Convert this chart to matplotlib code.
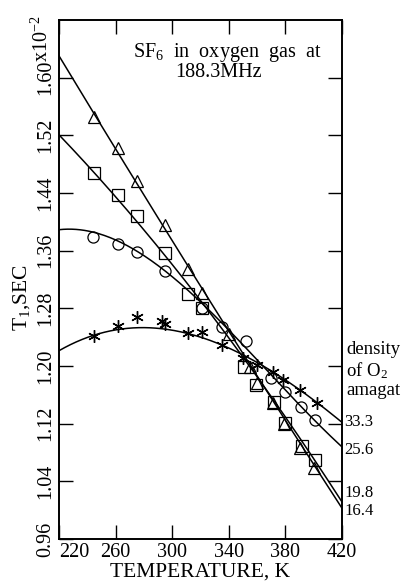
import numpy as np
import matplotlib
matplotlib.use("Agg")
import matplotlib.pyplot as plt

plt.rcParams['font.family'] = ['Liberation Serif', 'DejaVu Serif']
plt.rcParams['mathtext.fontset'] = 'custom'
plt.rcParams['mathtext.rm'] = 'Liberation Serif'
plt.rcParams['mathtext.it'] = 'Liberation Serif:italic'

# ---- data ----
# density 16.4 amagat (triangles)
tri_T = [245, 262, 275, 295, 311, 321, 340, 355, 360, 371, 379, 390, 400]
tri_v = [1.546, 1.503, 1.457, 1.396, 1.335, 1.301, 1.245, 1.198, 1.176, 1.149, 1.120, 1.086, 1.059]
# density 19.8 amagat (squares)
sq_T = [245, 262, 275, 295, 311, 321, 351, 359, 372, 380, 392, 401]
sq_v = [1.468, 1.437, 1.408, 1.357, 1.300, 1.280, 1.199, 1.174, 1.150, 1.121, 1.089, 1.070]
# density 25.6 amagat (circles)
ci_T = [244, 262, 275, 295, 321, 335, 352, 370, 380, 391, 401]
ci_v = [1.379, 1.369, 1.358, 1.332, 1.280, 1.254, 1.235, 1.183, 1.164, 1.143, 1.125]
# density 33.3 amagat (asterisks)
st_T = [245, 262, 275, 293, 295, 311, 321, 335, 350, 360, 371, 378, 390, 402]
st_v = [1.242, 1.256, 1.268, 1.263, 1.258, 1.246, 1.247, 1.229, 1.211, 1.201, 1.192, 1.181, 1.167, 1.149]

# smooth curves drawn through the points (nodes)
tri_curve_T = [220, 245, 275, 295, 321, 360, 380, 400, 420]
tri_curve_v = [1.626, 1.549, 1.459, 1.397, 1.305, 1.180, 1.120, 1.062, 1.009]
sq_curve_T = [220, 245, 275, 300, 320, 360, 390, 420]
sq_curve_v = [1.5135, 1.470, 1.410, 1.345, 1.292, 1.172, 1.095, 1.020]
ci_curve_T = [220, 250, 277, 293.5, 312.6, 340, 370, 400, 420]
ci_curve_v = [1.390, 1.380, 1.358, 1.333, 1.305, 1.250, 1.185, 1.127, 1.0876]
st_curve_T = [220, 245, 275, 300, 340, 380, 420]
st_curve_v = [1.222, 1.241, 1.254, 1.250, 1.225, 1.180, 1.122]

densities = ['33.3', '25.6', '19.8', '16.4']
xticks = [220, 260, 300, 340, 380, 420]
yticks = [0.96, 1.04, 1.12, 1.20, 1.28, 1.36, 1.44, 1.52, 1.60]
ytick_labels = ['0.96', '1.04', '1.12', '1.20', '1.28', '1.36', '1.44', '1.52', '1.60']

fig = plt.figure(figsize=(4.06, 5.84), dpi=100)
ax = fig.add_axes([0.1453, 0.0771, 0.6971, 0.8887])

Tgrid = np.linspace(220, 420, 200)
for cT, cv, deg in [(tri_curve_T, tri_curve_v, 2), (sq_curve_T, sq_curve_v, 2),
                    (ci_curve_T, ci_curve_v, 3), (st_curve_T, st_curve_v, 3)]:
    p = np.polyfit(cT, cv, deg)
    ax.plot(Tgrid, np.polyval(p, Tgrid), color='black', lw=1.1, zorder=2)

mk = dict(linestyle='none', markerfacecolor='none', markeredgecolor='black',
          markeredgewidth=0.9, zorder=3)
ax.plot(tri_T, tri_v, marker='^', markersize=9, **mk)
ax.plot(sq_T, sq_v, marker='s', markersize=8, **mk)
ax.plot(ci_T, ci_v, marker='o', markersize=8, **mk)
ax.plot(st_T, st_v, marker=(6, 2, 0), markersize=9, linestyle='none',
        color='black', markeredgewidth=1.0, zorder=3)

ax.set_xlim(220, 420)
ax.set_ylim(0.96, 1.68)
ax.set_xticks(xticks)
ax.set_xticklabels([str(t) for t in xticks], fontsize=14.5)
lbls = ax.get_xticklabels()
lbls[0].set_horizontalalignment('left')
ax.set_yticks(yticks)
ax.set_yticklabels(ytick_labels, rotation=90, va='center', fontsize=14.5)
ax.tick_params(direction='in', length=10, width=1.0, top=True, right=True)
ax.tick_params(axis='y', pad=3)
ax.tick_params(axis='x', pad=3)
for s in ax.spines.values():
    s.set_linewidth(1.4)

ax.text(-0.021, 1.622, 'x10$^{-2}$', transform=ax.get_yaxis_transform(),
        rotation=90, rotation_mode='anchor', ha='left', va='bottom', fontsize=14.5)

ax.text(0.5, -0.063, 'TEMPERATURE, K', transform=ax.transAxes,
        fontsize=15.5, ha='center', va='center')
ax.text(-0.131, 0.466, 'T$_1$,SEC', transform=ax.transAxes,
        fontsize=15.5, ha='center', va='center', rotation=90)

ax.text(0.26, 0.937, 'SF$_6$  in  oxygen  gas  at', transform=ax.transAxes,
        fontsize=14.5, ha='left', va='center')
ax.text(0.41, 0.898, '188.3MHz', transform=ax.transAxes,
        fontsize=14.5, ha='left', va='center')

ax.text(1.015, 0.366, 'density', transform=ax.transAxes, fontsize=13.5, va='center')
ax.text(1.015, 0.324, 'of O$_2$', transform=ax.transAxes, fontsize=13.5, va='center')
ax.text(1.015, 0.287, 'amagat', transform=ax.transAxes, fontsize=13.5, va='center')
ypos = [0.225, 0.171, 0.088, 0.053]
for d, yp in zip(densities, ypos):
    ax.text(1.008, yp, d, transform=ax.transAxes, fontsize=12, va='center')

fig.savefig('out.png', dpi=100)
